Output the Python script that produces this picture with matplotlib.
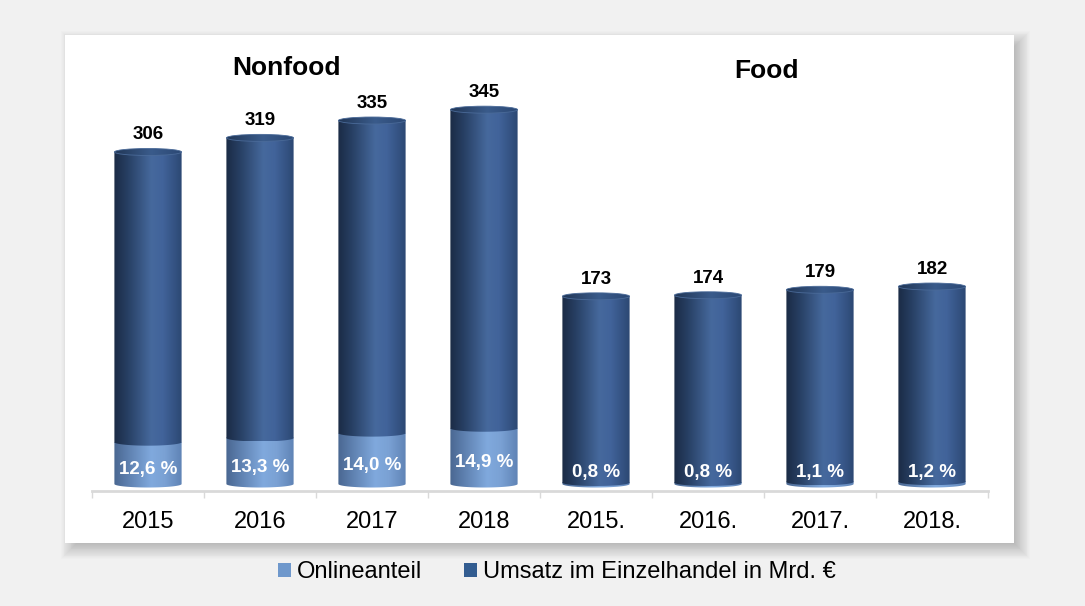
import numpy as np
import matplotlib
matplotlib.use('Agg')
import matplotlib.pyplot as plt
from matplotlib.patches import Rectangle, Ellipse, PathPatch, Patch
from matplotlib.path import Path
from matplotlib.colors import LinearSegmentedColormap

# ---------------- data ----------------
categories = ['2015', '2016', '2017', '2018', '2015.', '2016.', '2017.', '2018.']
umsatz = [306, 319, 335, 345, 173, 174, 179, 182]          # Mrd. €
online_pct = [12.6, 13.3, 14.0, 14.9, 0.8, 0.8, 1.1, 1.2]  # %
group_titles = ['Nonfood', 'Food']
legend_labels = ['Onlineanteil', 'Umsatz im Einzelhandel in Mrd. €']

# ---------------- style ----------------
W, H = 1085, 606
plt.rcParams['font.family'] = ['Liberation Sans', 'DejaVu Sans']
BG = '#f1f1f1'
LIGHT = '#6f98cc'
DARK = '#335d91'

cm_dark = LinearSegmentedColormap.from_list('d', [(0, '#1b2b45'), (0.2, '#273f63'), (0.55, '#46699d'),
                                                  (0.72, '#41639a'), (1, '#2c4873')])
cm_light = LinearSegmentedColormap.from_list('l', [(0, '#4a6791'), (0.2, '#5d7fae'), (0.55, '#80a9dd'),
                                                   (0.75, '#7aa1d4'), (1, '#5f83b5')])
cm_cap = LinearSegmentedColormap.from_list('c', [(0, '#213656'), (0.55, '#3a5b8b'), (1, '#2b4874')])

fig = plt.figure(figsize=(W / 100, H / 100), dpi=100, facecolor=BG)


def fx(px):
    return px / W


def fy(py):
    return 1 - py / H


# panel shadow (soft)
pl, pt, pr, pb = 65, 35, 1014, 543
dx, dy, blur, n = 6, 6, 10, 24
for s in np.linspace(blur, -blur, n):
    fig.add_artist(Rectangle((fx(pl + dx - s), fy(pb + dy + s)),
                             fx(pr + dx + s) - fx(pl + dx - s), fy(pt + dy - s) - fy(pb + dy + s),
                             transform=fig.transFigure, facecolor='black', edgecolor='none',
                             alpha=0.012, zorder=-10))
# white panel
fig.add_artist(Rectangle((fx(pl), fy(pb)), fx(pr) - fx(pl), fy(pt) - fy(pb),
                         transform=fig.transFigure, facecolor='white', edgecolor='none', zorder=-5))

ax = fig.add_axes([fx(92), fy(491), (988 - 92) / W, (491 - 40) / H])
ax.patch.set_visible(False)

x = np.arange(len(categories))
bw = 0.6
online_abs = [u * p / 100 for u, p in zip(umsatz, online_pct)]
bars = ax.bar(x, umsatz, width=bw, color=DARK, zorder=1)

eh = 6.45  # ellipse height in data units
grad = np.linspace(0, 1, 256).reshape(1, -1)


def grad_fill(poly, cmap, z):
    path = Path(np.vstack([poly, poly[:1]]), closed=True)
    patch = PathPatch(path, facecolor='none', edgecolor='none')
    ax.add_patch(patch)
    xmin, ymin = poly.min(0)
    xmax, ymax = poly.max(0)
    im = ax.imshow(grad, cmap=cmap, extent=[xmin, xmax, ymin, ymax], aspect='auto',
                   origin='lower', zorder=z, interpolation='bilinear')
    im.set_clip_path(patch)


for rect, val, on, pct in zip(bars, umsatz, online_abs, online_pct):
    x0 = rect.get_x()
    w = rect.get_width()
    xc = x0 + w / 2
    top = rect.get_height()
    rect.set_visible(False)
    t = np.linspace(0, np.pi, 80)
    arc_x = xc - (w / 2) * np.cos(t)
    arc_dy = -(eh / 2) * np.sin(t)
    light = np.column_stack([np.r_[arc_x, x0 + w, x0], np.r_[arc_dy, on + 0.5, on + 0.5]])
    dark = np.column_stack([np.r_[arc_x, x0 + w, x0], np.r_[on + arc_dy, top, top]])
    grad_fill(light, cm_light, 2)
    grad_fill(dark, cm_dark, 3)
    # top cap
    cap = Ellipse((xc, top), w, eh, facecolor='none', edgecolor='none')
    ax.add_patch(cap)
    im = ax.imshow(grad, cmap=cm_cap, extent=[x0, x0 + w, top - eh / 2, top + eh / 2],
                   aspect='auto', origin='lower', zorder=4, interpolation='bilinear')
    im.set_clip_path(cap)
    ax.add_patch(Ellipse((xc, top), w, eh, facecolor='none', edgecolor='#4a6a98', lw=0.6, zorder=4.5))
    # labels
    ax.annotate(f'{val}', (xc, top), xytext=(0, 9), textcoords='offset points',
                ha='center', va='baseline', fontsize=13.5, fontweight='bold', color='black', zorder=6)
    ax.text(xc, max(on / 2 - 4.5, 12.5), f'{pct:.1f} %'.replace('.', ','), ha='center',
            va='center_baseline', fontsize=13.5, fontweight='bold', color='white', zorder=6)

# group titles
ax.text(1.24, 386, group_titles[0], ha='center', va='center_baseline', fontsize=19, fontweight='bold')
ax.text(5.52, 383, group_titles[1], ha='center', va='center_baseline', fontsize=19, fontweight='bold')

ax.set_xlim(-0.5, 7.5)
ax.set_ylim(-6.45, 409.2)
ax.set_yticks([])
for sp in ['left', 'right', 'top']:
    ax.spines[sp].set_visible(False)
ax.spines['bottom'].set_color('#d9d9d9')
ax.spines['bottom'].set_linewidth(2)

ax.set_xticks(np.arange(-0.5, 8, 1))
ax.set_xticks(x, minor=True)
ax.set_xticklabels(categories, minor=True)
ax.tick_params(axis='x', which='major', length=5, color='#d9d9d9', width=1, labelbottom=False)
ax.tick_params(axis='x', which='minor', length=0, pad=14.5, labelsize=17)

handles = [Patch(facecolor=LIGHT, edgecolor='none'), Patch(facecolor=DARK, edgecolor='none')]
fig.legend(handles, legend_labels, loc='center', bbox_to_anchor=(fx(557), fy(572)), ncol=2,
           frameon=False, fontsize=17, handlelength=0.55, handleheight=0.55, handletextpad=0.25,
           columnspacing=1.8, borderaxespad=0, borderpad=0)

fig.savefig('out.png', dpi=100, facecolor=BG)
